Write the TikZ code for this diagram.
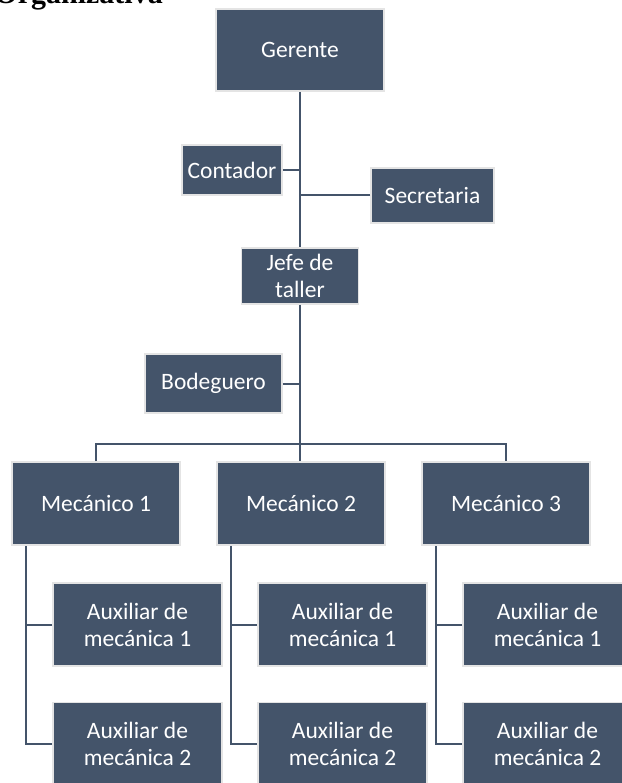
\documentclass[tikz,border=0pt]{standalone}
\usepackage{fontspec}
\newfontfamily\boxfont{Carlito}
\newfontfamily\titlefont{Liberation Serif}
\definecolor{slate}{HTML}{44546A}
\definecolor{rim}{HTML}{E4E4E4}

\begin{document}
\begin{tikzpicture}[x=1pt,y=-1pt,
  post/.style={draw=rim,line width=1.6pt,fill=slate,text=white,align=center,
    inner sep=0pt,font=\boxfont\fontsize{23.5}{27}\selectfont},
  link/.style={draw=slate,line width=2pt}]
  \useasboundingbox (0,0) rectangle (621,783);

  % Heading of the page, cut by the top edge.
  \node[anchor=base east,font=\titlefont\bfseries\fontsize{30}{34}\selectfont,inner sep=0pt]
    (heading) at (163,4) {Organizativa};

  % Management and staff.
  \node[post,minimum width=168pt,minimum height=82pt] (gerente) at (300,50) {Gerente};
  \node[post,minimum width=100pt,minimum height=50pt] (contador) at (232,170) {Contador};
  \node[post,minimum width=123pt,minimum height=55pt] (secretaria) at (432.5,195.5) {Secretaria};
  \node[post,minimum width=117pt,minimum height=56pt] (jefe) at (300,276) {Jefe de\\taller};
  \node[post,minimum width=137pt,minimum height=59pt] (bodeguero) at (213.5,383.5) {Bodeguero};

  \draw[link] (gerente.south) -- (jefe.north);
  \draw[link] (contador.east) -- (contador.east -| gerente.south);
  \draw[link] (secretaria.west) -- (secretaria.west -| gerente.south);
  \draw[link] (bodeguero.east) -- (bodeguero.east -| jefe.south);

  % Mechanics, each with two helpers below.
  \coordinate (bar) at (300,444);
  \foreach \i/\x in {1/96,2/301,3/506} {
    \node[post,minimum width=168pt,minimum height=83pt] (mec\i) at (\x,503.5) {Mecánico \i};
    \node[post,minimum width=169pt,minimum height=83pt] (aux\i a) at (\x+41.5,624.5)
      {Auxiliar de\\mecánica 1};
    \node[post,minimum width=169pt,minimum height=83pt] (aux\i b) at (\x+41.5,744)
      {Auxiliar de\\mecánica 2};
    \coordinate (stem\i) at ([xshift=15pt]mec\i.south west);
    \draw[link] (stem\i) |- (aux\i b.west);
    \draw[link] (aux\i a.west) -- (aux\i a.west -| stem\i);
  }

  \draw[link] (jefe.south) -- (bar);
  \draw[link] (mec1.north) |- (bar) -| (mec3.north);
  \draw[link] (bar) -- (bar |- mec2.north);
\end{tikzpicture}
\end{document}
